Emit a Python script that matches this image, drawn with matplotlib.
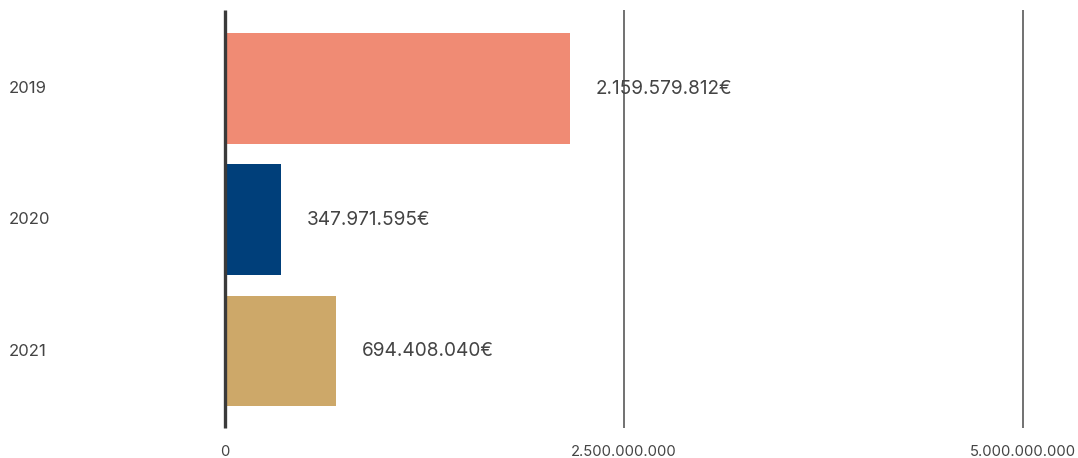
import matplotlib
matplotlib.use("Agg")
import matplotlib.pyplot as plt
import matplotlib.transforms as mtransforms

years = ["2019", "2020", "2021"]
amounts = [2159579812, 347971595, 694408040]
value_labels = ["2.159.579.812€", "347.971.595€", "694.408.040€"]
bar_colors = ["#F08B74", "#003F7A", "#CDA869"]
tick_values = [0, 2500000000, 5000000000]
tick_labels = ["0", "2.500.000.000", "5.000.000.000"]

W, H = 1078, 458
fig = plt.figure(figsize=(W / 100, H / 100), dpi=100)
ax = fig.add_axes([0, 0, 1, 1])
ax.set_axis_off()

px_per_unit = 159.6e-9   # pixels per euro
zero_px = 225
ax.set_xlim(-zero_px / px_per_unit, (W - zero_px) / px_per_unit)
row_px = 131.25
first_px = 88.5
ax.set_ylim((H - first_px) / row_px, -first_px / row_px)

positions = list(range(len(years)))
font = "Inter"
text_color = "#444444"

# vertical reference lines
y_top = (10 - first_px) / row_px
y_bot = (428 - first_px) / row_px
for v in tick_values:
    if v == 0:
        continue
    ax.vlines(v, y_top, y_bot, color="#666666", lw=1.3, zorder=1)

ax.barh(positions, amounts, height=0.845, color=bar_colors, zorder=2)
ax.vlines(0, y_top, y_bot, color="#3a3a3a", lw=2.4, zorder=3)

for p, a, lab in zip(positions, amounts, value_labels):
    ax.text(a + 26 / px_per_unit, p, lab, va="center", ha="left",
            fontsize=13.7, color=text_color, family=font)

ytrans = mtransforms.blended_transform_factory(ax.transAxes, ax.transData)
for p, y in zip(positions, years):
    ax.text(9 / W, p, y, va="center", ha="left", fontsize=12,
            color=text_color, family=font, transform=ytrans)

xtrans = mtransforms.blended_transform_factory(ax.transData, ax.transAxes)
for v, lab in zip(tick_values, tick_labels):
    ax.text(v, 1 - 452 / H, lab, va="center", ha="center", fontsize=10.7,
            color=text_color, family=font, transform=xtrans)

fig.savefig("out.png", dpi=100, facecolor="white")
